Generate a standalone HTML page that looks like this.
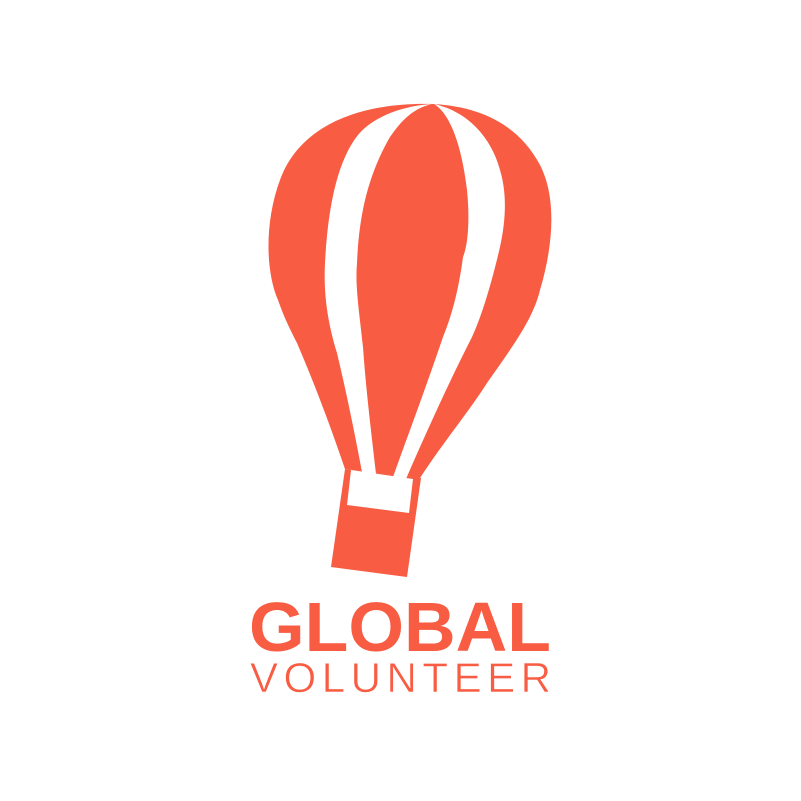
<!DOCTYPE html>
<html><head><meta charset="utf-8"><style>
html,body{margin:0;padding:0;background:#fff;width:801px;height:801px;overflow:hidden}
svg{display:block}
</style></head><body>
<svg width="801" height="801" viewBox="0 0 801 801">
<g fill="#F85C42">
<path d="M433,104 C360,102 300,125 280,180 C265,220 265,270 278,300 C285,320 292,333 297,343 C315,385 330,425 345,469 L420,478 C445,440 470,410 487,383 C510,350 533,320 540,290 C552,250 558,200 540,165 C515,118 470,106 433,104 Z"/>
<path d="M345,469 L421,478 L407,577 L331,567 Z"/>
</g>
<g fill="#fff">
<path d="M432,104 C400,106 372,118 358,135 C338,160 328,205 325,263 C323,300 330,330 337,353 C347,395 355,435 362,472 L376,474 C371,430 366,390 363,347 C359,310 355,285 357,263 C359,215 368,175 390,137 C403,118 415,108 432,104 Z"/>
<path d="M434,104 C448,112 461,140 467,190 C470,220 468,245 463,257 C458,295 450,320 443,337 C425,390 408,435 393,477 L406,479 C425,435 450,380 472,337 C480,320 490,290 500,247 C507,215 506,190 500,170 C492,140 470,112 434,104 Z"/>
<path d="M351,470 L413,479 L409,513 L347,505 Z"/>
</g>
<text x="249" y="651" textLength="302" lengthAdjust="spacingAndGlyphs" font-family="Liberation Sans, Arial, sans-serif" font-weight="bold" font-size="70" fill="#F85C42">GLOBAL</text>
<text x="250" y="692" textLength="301" lengthAdjust="spacing" font-family="Liberation Sans, Arial, sans-serif" font-size="42" fill="#F85C42" stroke="#fff" stroke-width="0.6">VOLUNTEER</text>
</svg>
</body></html>
